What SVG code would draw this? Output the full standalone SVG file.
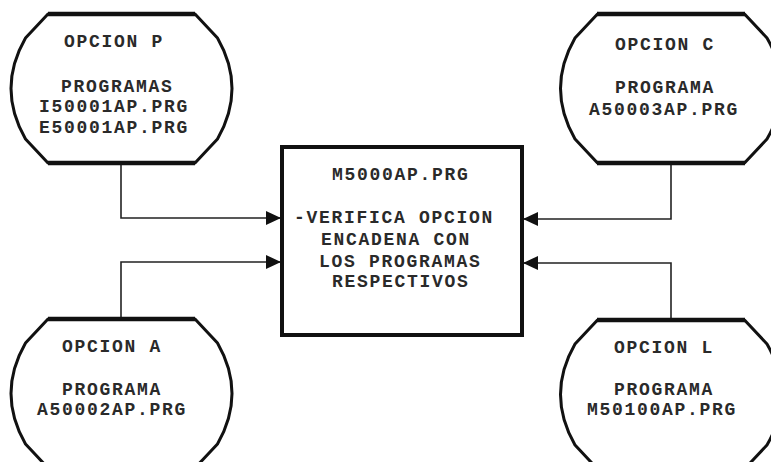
<svg xmlns="http://www.w3.org/2000/svg" width="771" height="462" viewBox="0 0 771 462">
<defs>
<style>
.shape{fill:#fff;stroke:#111;stroke-width:3;stroke-linejoin:round}
.edge{stroke:#111;stroke-width:4.5;fill:none}
.box{fill:#fff;stroke:#111;stroke-width:4}
.conn{fill:none;stroke:#222;stroke-width:1.6}
text{font-family:"Liberation Mono","DejaVu Sans Mono",monospace;font-weight:bold;font-size:18px;letter-spacing:1.7px;fill:#2a2a2a}
</style>
<marker id="arr" markerUnits="userSpaceOnUse" markerWidth="16" markerHeight="14" refX="15" refY="7" orient="auto">
<path d="M0,0 L15,7 L0,14 Z" fill="#111"/>
</marker>
<path id="oct" d="M-73.5,0 L73.5,0 L96,24 Q125,74.5 96,125 L73.5,149 L-73.5,149 L-96,125 Q-125,74.5 -96,24 Z"/>
</defs>
<rect width="771" height="462" fill="#fff"/>
<g id="connectors">
<path class="conn" d="M121,163 V218 H281" marker-end="url(#arr)"/>
<path class="conn" d="M121,319 V262 H281" marker-end="url(#arr)"/>
<path class="conn" d="M671,163 V219 H523" marker-end="url(#arr)"/>
<path class="conn" d="M671,320 V263 H523" marker-end="url(#arr)"/>
</g>
<g id="opcion-p">
<use href="#oct" class="shape" x="121.5" y="14"/>
<path class="edge" d="M48,14 H195 M48,163 H195"/>
<text x="64" y="47">OPCION P</text>
<text x="61" y="92">PROGRAMAS</text>
<text x="39" y="112">I50001AP.PRG</text>
<text x="39" y="133">E50001AP.PRG</text>
</g>
<g id="opcion-c">
<use href="#oct" class="shape" x="671" y="14"/>
<path class="edge" d="M597,14 H745 M597,163 H745"/>
<text x="615" y="50">OPCION C</text>
<text x="615" y="93">PROGRAMA</text>
<text x="589" y="115">A50003AP.PRG</text>
</g>
<g id="opcion-a">
<use href="#oct" class="shape" x="121.5" y="319"/>
<path class="edge" d="M48,319 H195"/>
<text x="62" y="352">OPCION A</text>
<text x="62" y="395">PROGRAMA</text>
<text x="37" y="415">A50002AP.PRG</text>
</g>
<g id="opcion-l">
<use href="#oct" class="shape" x="671" y="320"/>
<path class="edge" d="M597,320 H745"/>
<text x="614" y="353">OPCION L</text>
<text x="614" y="395">PROGRAMA</text>
<text x="587" y="415">M50100AP.PRG</text>
</g>
<g id="main">
<rect class="box" x="282" y="147" width="240" height="188"/>
<text x="332" y="180">M5000AP.PRG</text>
<text x="294" y="223">-VERIFICA OPCION</text>
<text x="321" y="245">ENCADENA CON</text>
<text x="319" y="267">LOS PROGRAMAS</text>
<text x="332" y="287">RESPECTIVOS</text>
</g>
</svg>
